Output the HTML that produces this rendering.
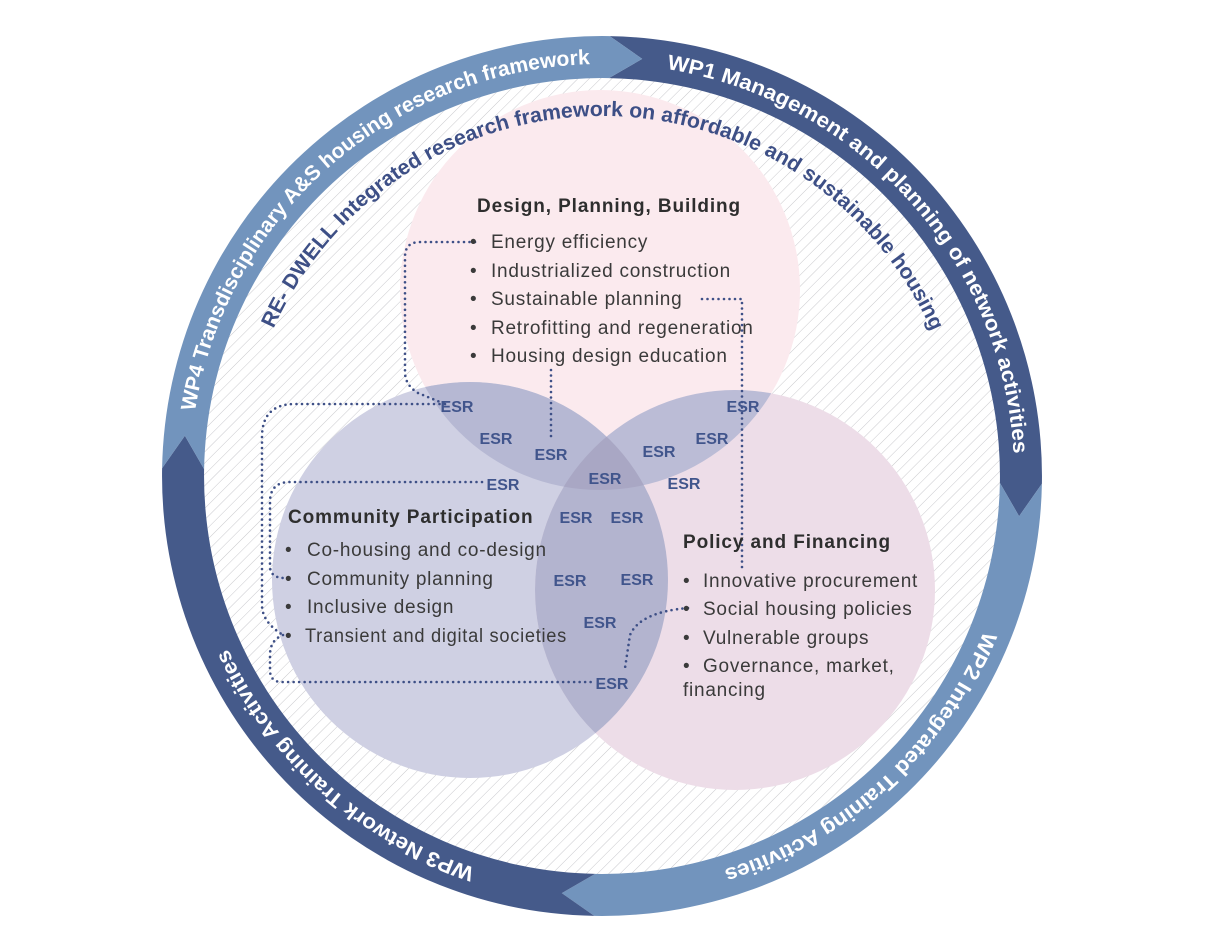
<!DOCTYPE html>
<html><head><meta charset="utf-8"><style>
html,body{margin:0;padding:0;background:#fff;}
svg{display:block}
.h{font-family:"Liberation Sans",sans-serif;font-weight:bold;font-size:19px;letter-spacing:0.9px;fill:#2e2e2e}
.b{font-family:"Liberation Sans",sans-serif;font-size:19px;letter-spacing:0.75px;fill:#3a3a3a}
.e{font-family:"Liberation Sans",sans-serif;font-weight:bold;font-size:16px;fill:#41558c}
.r{font-family:"Liberation Sans",sans-serif;font-weight:bold;font-size:21px;fill:#fff}
.i{font-family:"Liberation Sans",sans-serif;font-weight:bold;font-size:21px;fill:#3d4f86}
.d{fill:none;stroke:#3d4f86;stroke-width:2.6;stroke-dasharray:0 5.5;stroke-linecap:round;stroke-linejoin:round}
</style></head><body>
<svg width="1208" height="951" viewBox="0 0 1208 951" xmlns="http://www.w3.org/2000/svg">
<defs>
<pattern id="hat" patternUnits="userSpaceOnUse" width="8" height="8" patternTransform="rotate(45)">
<rect width="8" height="8" fill="#fff"/><line x1="0" y1="0" x2="0" y2="8" stroke="#c9c9cd" stroke-width="1"/>
</pattern>
<clipPath id="cD"><circle cx="600" cy="290" r="200"/></clipPath>
<clipPath id="cC"><circle cx="470" cy="580" r="198"/></clipPath>
<clipPath id="cP"><circle cx="735" cy="590" r="200"/></clipPath>
<path id="ringp" d="M602,888 A412,412 0 1 1 602,64 A412,412 0 1 1 602,888"/>
<path id="innp" d="M602,836 A360,360 0 1 1 602,116 A360,360 0 1 1 602,836"/>
</defs>
<circle cx="602" cy="476" r="400" fill="url(#hat)"/>
<g id="ring"></g>
<circle cx="600" cy="290" r="200" fill="#fbeaee"/>
<circle cx="470" cy="580" r="198" fill="#cfd0e3"/>
<circle cx="735" cy="590" r="200" fill="#eddde8"/>
<g clip-path="url(#cD)"><circle cx="470" cy="580" r="198" fill="#b6b8d3"/><circle cx="735" cy="590" r="200" fill="#bbbcd6"/></g>
<g clip-path="url(#cC)"><circle cx="735" cy="590" r="200" fill="#b3b4cf"/></g>
<g clip-path="url(#cD)"><g clip-path="url(#cC)"><circle cx="735" cy="590" r="200" fill="#a9a7c4"/></g></g>

<path class="d" d="M475,242 L420,242 Q405,242 405,257 L405,372 Q405,385 418,393 L445,404"/>
<path class="d" d="M445,404 L295,404 Q262,404 262,437 L262,605 Q262,622 283,635"/>
<path class="d" d="M482,482 L290,482 Q270,482 270,502 L270,566 Q270,578 285,578"/>
<path class="d" d="M283,635 Q270,640 270,655 L270,670 Q270,682 282,682 L595,682"/>
<path class="d" d="M702,299 L742,299 L742,572"/>
<path class="d" d="M551,370 L551,438"/>
<path class="d" d="M688,608 Q640,612 630,635 L625,668"/>

<text class="h" x="477" y="212">Design, Planning, Building</text>
<g class="b">
<text x="470" y="248">•</text><text x="491" y="248">Energy efficiency</text>
<text x="470" y="277">•</text><text x="491" y="277">Industrialized construction</text>
<text x="470" y="305">•</text><text x="491" y="305">Sustainable planning</text>
<text x="470" y="334">•</text><text x="491" y="334">Retrofitting and regeneration</text>
<text x="470" y="362">•</text><text x="491" y="362">Housing design education</text></g>
<text class="h" x="288" y="523">Community Participation</text>
<g class="b">
<text x="285" y="556">•</text><text x="307" y="556">Co-housing and co-design</text>
<text x="285" y="585">•</text><text x="307" y="585">Community planning</text>
<text x="285" y="613">•</text><text x="307" y="613">Inclusive design</text>
<text x="285" y="642">•</text><text x="305" y="642" textLength="262" lengthAdjust="spacingAndGlyphs">Transient and digital societies</text></g>
<text class="h" x="683" y="548">Policy and Financing</text>
<g class="b">
<text x="683" y="587">•</text><text x="703" y="587">Innovative procurement</text>
<text x="683" y="615">•</text><text x="703" y="615">Social housing policies</text>
<text x="683" y="644">•</text><text x="703" y="644">Vulnerable groups</text>
<text x="683" y="672">•</text><text x="703" y="672">Governance, market,</text>
<text x="683" y="696">financing</text></g>

<g class="e" text-anchor="middle">
<text x="457" y="412">ESR</text><text x="496" y="444">ESR</text><text x="551" y="460">ESR</text><text x="503" y="490">ESR</text><text x="605" y="484">ESR</text><text x="576" y="523">ESR</text><text x="627" y="523">ESR</text><text x="659" y="457">ESR</text><text x="712" y="444">ESR</text><text x="743" y="412">ESR</text><text x="684" y="489">ESR</text><text x="570" y="586">ESR</text><text x="637" y="585">ESR</text><text x="600" y="628">ESR</text><text x="612" y="689">ESR</text>
</g>

<text class="i"><textPath href="#innp" startOffset="717" textLength="830" lengthAdjust="spacingAndGlyphs">RE- DWELL Integrated research framework on affordable and sustainable housing</textPath></text>
</svg>
<script>
(function(){
var cx=602,cy=476,R=440,r=398,m=419,d=4.5;
function P(rad,a){var t=a*Math.PI/180;return (cx+rad*Math.sin(t)).toFixed(1)+","+(cy-rad*Math.cos(t)).toFixed(1);}
function seg(a0,a1,col){
var p="M"+P(R,a0)+" A"+R+","+R+" 0 0 1 "+P(R,a1)+" L"+P(m,a1+d)+" L"+P(r,a1)+" A"+r+","+r+" 0 0 0 "+P(r,a0)+" L"+P(m,a0+d)+" Z";
return '<path d="'+p+'" fill="'+col+'"/>';}
var s=seg(1,91,"#455a8a")+seg(91,181,"#7294bd")+seg(181,271,"#455a8a")+seg(271,361,"#7294bd");
var L=412*Math.PI/180;
function tx(a,len,t){var o=((a-180+360)%360)*L;return '<text class="r"><textPath href="#ringp" startOffset="'+o.toFixed(0)+'" textLength="'+len+'" lengthAdjust="spacingAndGlyphs">'+t+'</textPath></text>';}
s+=tx(279,570,"WP4 Transdisciplinary A&amp;S housing research framework");
s+=tx(9,560,"WP1 Management and planning of network activities");
s+=tx(112,365,"WP2 Integrated Training Activities");
s+=tx(198,340,"WP3 Network Training Activities");
document.getElementById("ring").innerHTML=s;
})();
</script>
</body></html>
